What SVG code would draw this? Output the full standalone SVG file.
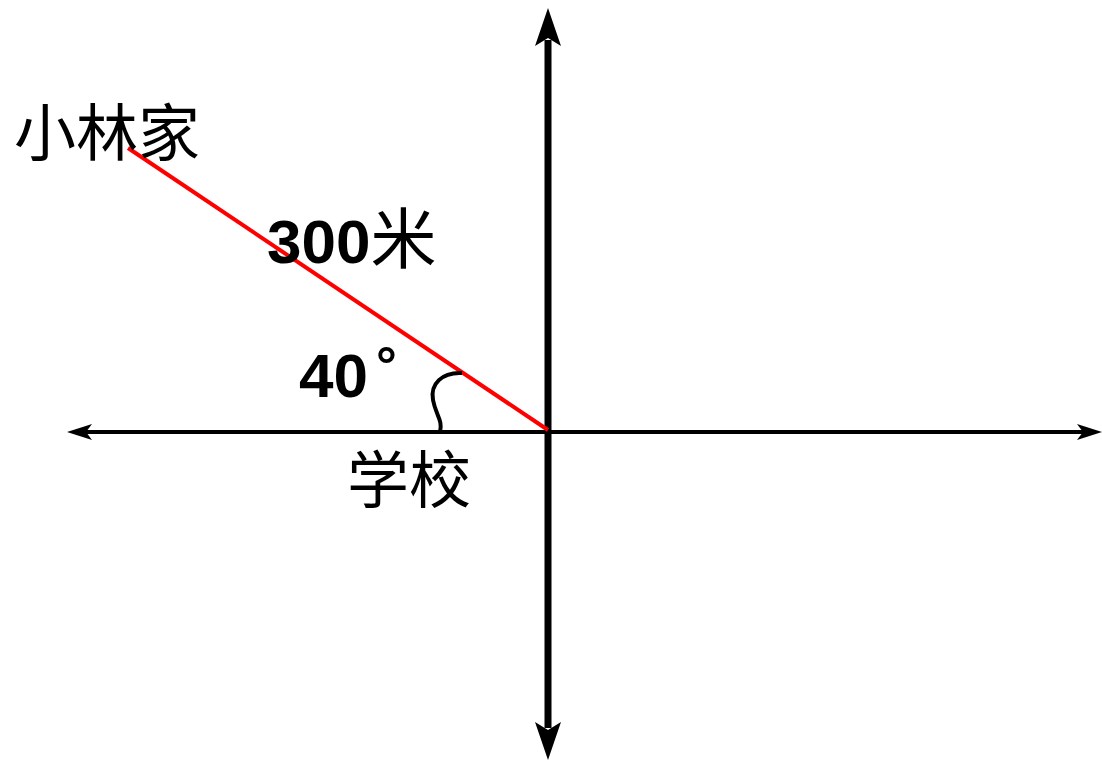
<svg xmlns="http://www.w3.org/2000/svg" width="1102" height="762" viewBox="0 0 1102 762">
<style>
.cjk{font-family:"Noto Sans CJK SC","Noto Sans CJK JP",sans-serif;font-size:62px;fill:#000}
.num{font-family:"Liberation Sans",Arial,sans-serif;font-weight:bold;font-size:62px;fill:#000}
</style>
<rect width="1102" height="762" fill="#fff"/>
<g id="connectors">
<line x1="548" y1="40" x2="548" y2="728" stroke="#000" stroke-width="7"/>
<path d="M548,8 L561,46 L548,38 L535,46 Z" fill="#000"/>
<path d="M548,760 L561,722 L548,730 L535,722 Z" fill="#000"/>
<line x1="85" y1="432" x2="1085" y2="432" stroke="#000" stroke-width="4"/>
<path d="M67,432 L92,424 L86,432 L92,440 Z" fill="#000"/>
<path d="M1102,432 L1077,424 L1083,432 L1077,440 Z" fill="#000"/>
<line x1="128" y1="148" x2="548" y2="430" stroke="#f00" stroke-width="4"/>
<path d="M462,373 C442,372 430,384 433,400 C436,416 443,420 440,432" fill="none" stroke="#000" stroke-width="4"/>
</g>
<g id="home"><text class="cjk" x="14" y="156" font-size="64">小林家</text></g>
<g id="distance"><text class="num" x="267" y="263">300<tspan style="font-family:'Noto Sans CJK SC',sans-serif;font-weight:normal;font-size:66px">米</tspan></text></g>
<g id="angle"><text class="num" x="299" y="397">40<tspan font-size="52" dx="8" dy="-14">°</tspan></text></g>
<g id="school"><text class="cjk" x="347" y="503">学校</text></g>
</svg>
